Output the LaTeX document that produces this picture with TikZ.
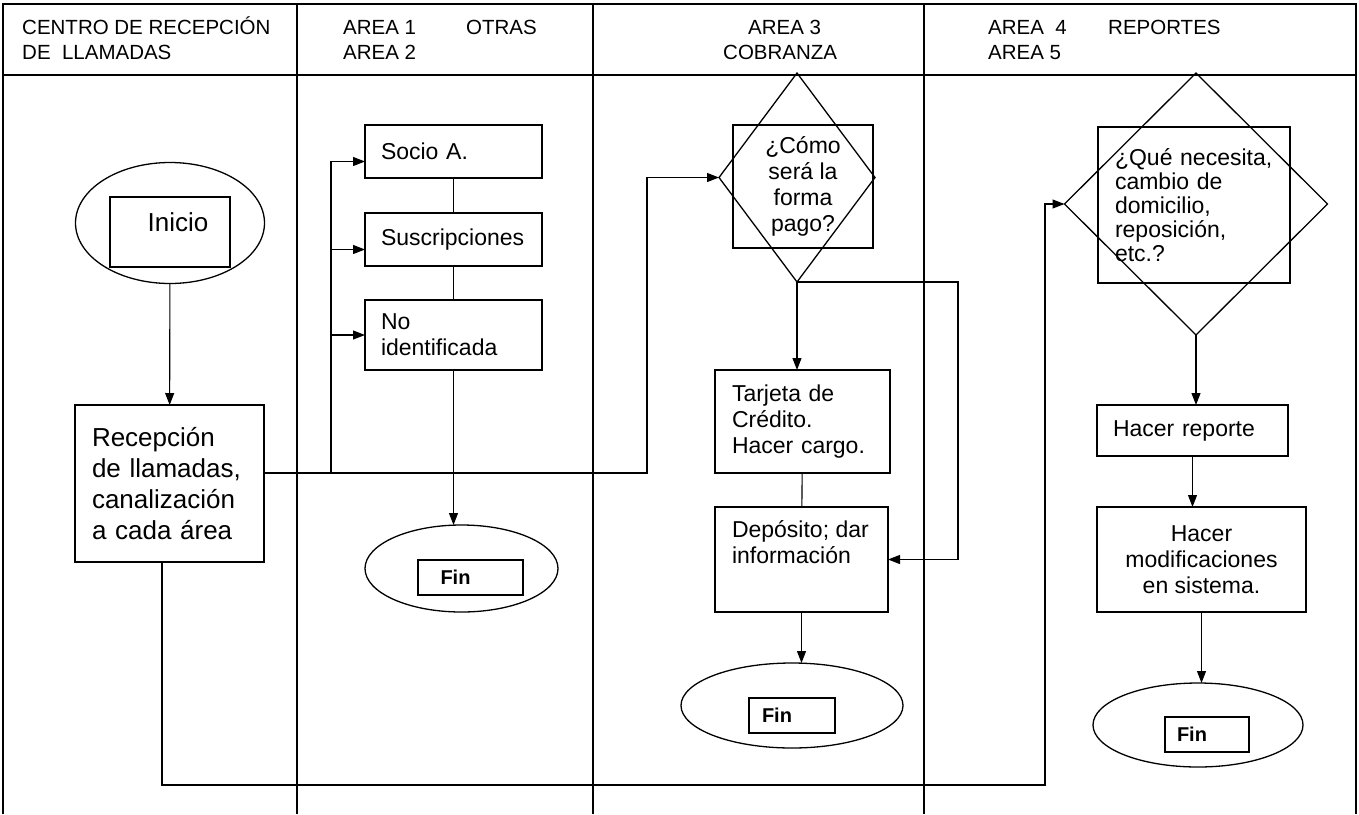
\documentclass[tikz,border=0pt]{standalone}
\usepackage{fontspec}
\setmainfont{Liberation Sans}
\usetikzlibrary{arrows.meta, positioning, shapes.geometric}

\tikzstyle{header} = [anchor=base west, inner sep=0pt, font={\fontsize{20.5}{24}\selectfont}]
\tikzstyle{process} = [rectangle, draw=black, line width=1.3pt, outer sep=0pt, align=left, font={\fontsize{23}{26}\selectfont}]
\tikzstyle{decision} = [diamond, draw=black, line width=1.3pt, outer sep=0pt, inner sep=0pt]
\tikzstyle{terminal} = [ellipse, draw=black, line width=1.3pt, outer sep=0pt, inner sep=0pt]
\tikzstyle{finbox} = [rectangle, draw=black, line width=1.3pt, minimum height=35pt, text width=60pt, align=left, font={\bfseries\fontsize{20}{22}\selectfont}]
\tikzstyle{arrow} = [line width=1.1pt, -{Triangle[length=12pt, width=9pt]}]
\tikzstyle{link} = [line width=1.1pt]
\tikzstyle{frame} = [line width=1.3pt]

\begin{document}
\begin{tikzpicture}[x=1pt, y=-1pt]
    \useasboundingbox (0,0) rectangle (1359,814);

    % table frame and lanes
    \draw [frame] (3,814) -- (3,4) -- (1356,4) -- (1356,814);
    \draw [frame] (3,75) -- (1356,75);
    \foreach \x in {297, 593, 924}
        \draw [frame] (\x,4) -- (\x,814);

    \node (hdrcentro) [header] at (22,34) {CENTRO DE RECEPCIÓN};
    \node (hdrllamadas) [header] at (22,59) {DE\ \ LLAMADAS};
    \node (hdrarea1) [header] at (343,34) {AREA 1};
    \node (hdrotras) [header] at (466,34) {OTRAS};
    \node (hdrarea2) [header] at (343,59) {AREA 2};
    \node (hdrarea3) [header] at (748,34) {AREA 3};
    \node (hdrcobranza) [header] at (723,59) {COBRANZA};
    \node (hdrarea4) [header] at (988,34) {AREA\ \ 4};
    \node (hdrreportes) [header] at (1108,34) {REPORTES};
    \node (hdrarea5) [header] at (988,59) {AREA 5};

    % centro de recepcion
    \node (inicio) [terminal, minimum width=189pt, minimum height=121pt] at (170,223) {};
    \node (iniciobox) [process, minimum width=120pt, minimum height=70pt] at (170,232) {};
    \node (iniciotxt) [inner sep=0pt, font={\fontsize{26}{31}\selectfont}] at (178,222) {Inicio};
    \node (recep) [process, text width=155pt, inner xsep=17pt, minimum height=157pt, font={\fontsize{26}{31}\selectfont}] at (169.5,483.5) {Recepción\\de llamadas,\\canalización\\a cada área};

    % area 1 / area 2
    \node (socio) [process, text width=145pt, inner xsep=16pt, minimum height=53pt] at (453.5,151.5) {Socio A.};
    \node (suscr) [process, text width=145pt, inner xsep=16pt, minimum height=53pt] at (453.5,239.5) {Suscripciones};
    \node (noid) [process, text width=145pt, inner xsep=16pt, minimum height=70pt] at (453.5,335) {No\\identificada};
    \node (fin1) [terminal, minimum width=193pt, minimum height=87pt] at (461.5,568.5) {};
    \node (fin1box) [finbox, inner xsep=22.5pt] at (470.5,577.5) {Fin};

    % area 3
    \node (dq1) [decision, minimum width=156pt, minimum height=209pt] at (797,177.5) {};
    \node (dq1box) [process, align=center, minimum width=140pt, minimum height=123pt] at (803,186.5) {¿Cómo\\será la\\forma\\pago?};
    \node (tarjeta) [process, text width=141pt, inner xsep=17pt, minimum height=103pt] at (802.5,421.5) {Tarjeta de\\Crédito.\\Hacer cargo.};
    \node (deposito) [process, minimum width=173pt, minimum height=105pt] at (801.5,559.5) {};
    \node (depositotxt) [process, draw=none, anchor=north west, inner sep=0pt] at (732,521) {Depósito; dar\\información};
    \node (fin2) [terminal, minimum width=222pt, minimum height=85pt] at (792,705.5) {};
    \node (fin2box) [finbox, inner xsep=13pt] at (792,715.5) {Fin};

    % area 4 / area 5
    \node (dq2) [decision, minimum width=263pt, minimum height=262pt] at (1196,204) {};
    \node (dq2box) [process, text width=158pt, inner xsep=17pt, minimum height=156pt, font={\fontsize{23}{24}\selectfont}] at (1194,205) {¿Qué necesita,\\cambio de\\domicilio,\\reposición,\\etc.?};
    \node (reporte) [process, text width=159pt, inner xsep=16pt, minimum height=51pt] at (1192.5,430.5) {Hacer reporte};
    \node (modif) [process, align=center, minimum width=209pt, minimum height=105pt] at (1201.5,559.5) {Hacer\\modificaciones\\en sistema.};
    \node (fin3) [terminal, minimum width=210pt, minimum height=84pt] at (1198,725) {};
    \node (fin3box) [finbox, inner xsep=12pt] at (1207,734.5) {Fin};

    \coordinate (busfoot) at (331,473);
    \coordinate (split) at (647,473);
    \coordinate (rbranch) at (958,282);
    \coordinate (lowleft) at (162,785);
    \coordinate (lowright) at (1045,785);

    \draw [arrow] (inicio) -- (recep);
    \draw [arrow] ([yshift=10.5pt]recep.east) -- (split) |- (dq1.west);
    \draw [arrow] (busfoot) |- ([yshift=-10pt]socio.west);
    \draw [arrow] (busfoot) |- ([yshift=-10pt]suscr.west);
    \draw [arrow] (busfoot) |- (noid.west);
    \draw [link] (socio) -- (suscr);
    \draw [link] (suscr) -- (noid);
    \draw [arrow] (noid) -- (noid |- fin1.north);

    \draw [arrow] (dq1.south) -- (dq1.south |- tarjeta.north);
    \draw [link] (tarjeta) -- (deposito);
    \draw [arrow] (dq1.south) -- (rbranch) |- (deposito.east);
    \draw [arrow] (deposito) -- (deposito |- fin2.north);

    \draw [arrow] (recep.south -| lowleft) -- (lowleft) -- (lowright) |- (dq2.west);
    \draw [arrow] (dq2.south) -- (dq2.south |- reporte.north);
    \draw [arrow] (reporte) -- (reporte |- modif.north);
    \draw [arrow] (modif) -- (modif |- fin3.north);
\end{tikzpicture}
\end{document}
